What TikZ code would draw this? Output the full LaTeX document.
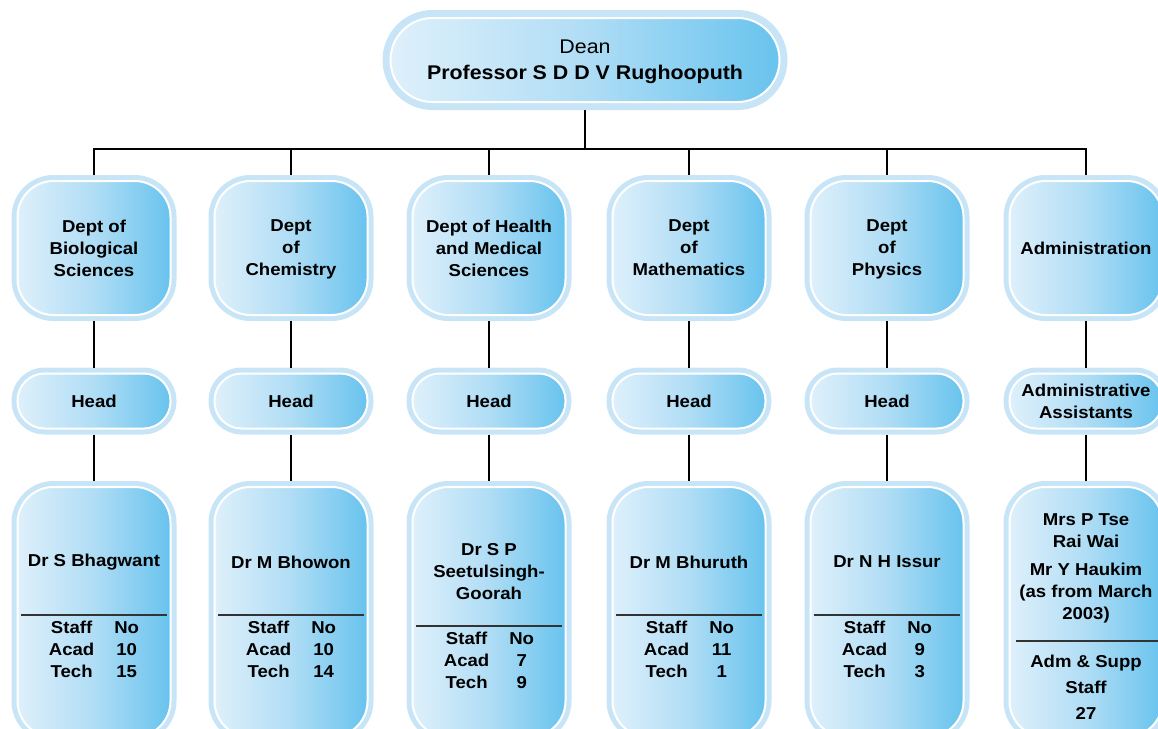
\documentclass[tikz,border=0pt]{standalone}
\usepackage{fontspec}
\setmainfont{Liberation Sans}[FakeStretch=1.08]
\usepackage{tikz}
\definecolor{halo}{RGB}{200,229,247}
\definecolor{boxleft}{RGB}{222,240,251}
\definecolor{boxmid}{RGB}{176,221,245}
\definecolor{boxright}{RGB}{104,195,238}
\newcommand{\unitfont}{\fontsize{17.2}{22}\selectfont\bfseries}
\newcommand{\staffcount}[2]{\begin{tabular}{c@{\hspace{20pt}}c}Staff & No\\Acad & #1\\Tech & #2\end{tabular}}
\tikzstyle{unitbox}=[rectangle, draw=white, line width=2pt, left color=boxleft, right color=boxright, middle color=boxmid,
                     outer sep=6pt, align=center, font=\unitfont, text depth=0pt,
                     % light blue rim round every box
                     preaction={draw=halo, line width=12pt}]
\tikzstyle{deanbox}=[unitbox, rounded corners=42pt, minimum width=389pt, minimum height=84pt,
                     outer sep=8pt, preaction={draw=halo, line width=16pt},
                     font=\fontsize{19.8}{26}\selectfont]
\tikzstyle{deptbox}=[unitbox, rounded corners=36pt, minimum width=153pt, minimum height=134pt]
\tikzstyle{headbox}=[unitbox, rounded corners=27pt, minimum width=153pt, minimum height=55pt]
\tikzstyle{staffbox}=[unitbox, rounded corners=36pt, minimum width=153pt, minimum height=250pt]
\tikzstyle{nametext}=[align=center, font=\unitfont, inner sep=0pt]
\tikzstyle{link}=[draw, line width=1.2pt]
\tikzstyle{divider}=[draw, line width=1.2pt, black!80]

\begin{document}
\begin{tikzpicture}[x=1pt, y=-1pt]
    \useasboundingbox (0,0) rectangle (1158,728);
    \clip (0,0) rectangle (1158,728);
    % top of the chart
    \node[deanbox] (dean) at (585,60) {Dean\\\textbf{Professor S D D V Rughooputh}};
    \coordinate (fork) at (585,149);
    \draw[link] (dean) -- (fork);

    % departments
    \node[deptbox] (bio)   at (94,248)   {Dept of\\Biological\\Sciences};
    \node[deptbox] (chem)  at (291,248)  {Dept\\of\\Chemistry};
    \node[deptbox] (hms)   at (489,248)  {Dept of Health\\and Medical\\Sciences};
    \node[deptbox] (maths) at (689,248)  {Dept\\of\\Mathematics};
    \node[deptbox] (phys)  at (887,248)  {Dept\\of\\Physics};
    \node[deptbox] (admin) at (1086,248) {Administration};
    \draw[link] (fork) -| (bio);
    \draw[link] (fork) -| (chem);
    \draw[link] (fork) -| (hms);
    \draw[link] (fork) -| (maths);
    \draw[link] (fork) -| (phys);
    \draw[link] (fork) -| (admin);

    % heads
    \node[headbox] (hbio)   at (94,401)   {Head};
    \node[headbox] (hchem)  at (291,401)  {Head};
    \node[headbox] (hhms)   at (489,401)  {Head};
    \node[headbox] (hmaths) at (689,401)  {Head};
    \node[headbox] (hphys)  at (887,401)  {Head};
    \node[headbox] (hadmin) at (1086,401) {Administrative\\Assistants};
    \draw[link] (bio) -- (hbio);
    \draw[link] (chem) -- (hchem);
    \draw[link] (hms) -- (hhms);
    \draw[link] (maths) -- (hmaths);
    \draw[link] (phys) -- (hphys);
    \draw[link] (admin) -- (hadmin);

    % people and staff numbers
    \node[staffbox] (pbio)   at (94,612)   {};
    \node[staffbox] (pchem)  at (291,612)  {};
    \node[staffbox] (phms)   at (489,612)  {};
    \node[staffbox] (pmaths) at (689,612)  {};
    \node[staffbox] (pphys)  at (887,612)  {};
    \node[staffbox] (padmin) at (1086,612) {};
    \draw[link] (hbio) -- (pbio);
    \draw[link] (hchem) -- (pchem);
    \draw[link] (hhms) -- (phms);
    \draw[link] (hmaths) -- (pmaths);
    \draw[link] (hphys) -- (pphys);
    \draw[link] (hadmin) -- (padmin);

    \node[nametext] (nbio)   at (94,562)   {Dr S Bhagwant};
    \node[nametext] (nchem)  at (291,562)  {Dr M Bhowon};
    \node[nametext] (nhms)   at (489,572)  {Dr S P\\Seetulsingh-\\Goorah};
    \node[nametext] (nmaths) at (689,562)  {Dr M Bhuruth};
    \node[nametext] (nphys)  at (887,562)  {Dr N H Issur};
    \node[nametext] (nadmin) at (1086,568) {Mrs P Tse\\Rai Wai\\[6pt]Mr Y Haukim\\(as from March\\2003)};

    \draw[divider] (pbio |- 0,615) +(-73,0) -- +(73,0);
    \draw[divider] (pchem |- 0,615) +(-73,0) -- +(73,0);
    \draw[divider] (phms |- 0,626) +(-73,0) -- +(73,0);
    \draw[divider] (pmaths |- 0,615) +(-73,0) -- +(73,0);
    \draw[divider] (pphys |- 0,615) +(-73,0) -- +(73,0);
    \draw[divider] (padmin |- 0,641) +(-70,0) -- +(76,0);

    \node[nametext] (tbio)   at (94,651)   {\staffcount{10}{15}};
    \node[nametext] (tchem)  at (291,651)  {\staffcount{10}{14}};
    \node[nametext] (thms)   at (489,662)  {\staffcount{7}{9}};
    \node[nametext] (tmaths) at (689,651)  {\staffcount{11}{1}};
    \node[nametext] (tphys)  at (887,651)  {\staffcount{9}{3}};
    \node[nametext, font=\fontsize{17.2}{26}\selectfont\bfseries] (tadmin) at (1086,687) {Adm \& Supp\\Staff\\27};
\end{tikzpicture}
\end{document}
